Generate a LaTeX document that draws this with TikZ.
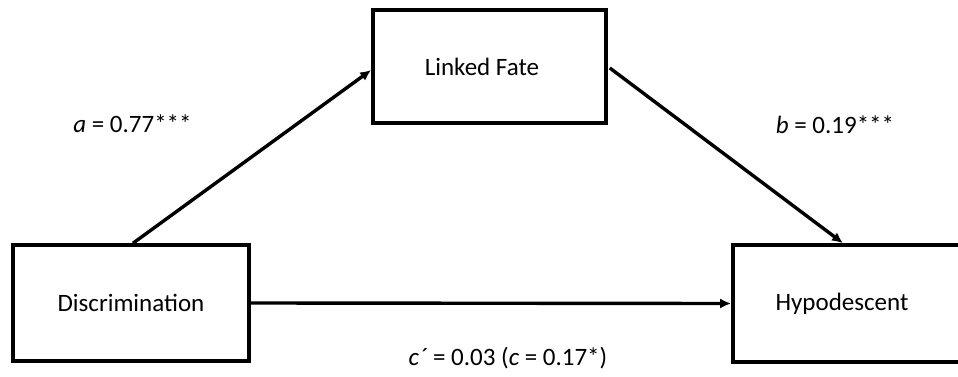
\documentclass[tikz,border=0pt]{standalone}
\usepackage{fontspec}
\setmainfont{Carlito}
\usetikzlibrary{arrows.meta}
\begin{document}
\begin{tikzpicture}[x=1pt,y=-1pt,
  box/.style={draw=black,line width=3.6pt,fill=white,minimum width=#1,inner sep=0pt,font=\fontsize{25}{30}\selectfont},
  arr/.style={line width=3.4pt,-{Latex[length=11pt,width=10pt]}},
  lab/.style={anchor=base,inner sep=0pt,font=\fontsize{25}{30}\selectfont}]
\useasboundingbox[fill=white] (0,0) rectangle (958,377);
\node[box=236pt,minimum height=116pt] (disc) at (131,303) {Discrimination};
\node[box=233pt,minimum height=113pt] (lf) at (489.5,66.5) {\hspace*{-15pt}Linked Fate};
\node[box=232pt,minimum height=117pt] (hypo) at (849,303.5) {\hspace*{-14pt}Hypodescent};
\draw[arr] ([xshift=2pt]disc.north) -- ([yshift=-3.5pt]lf.west);
\draw[arr] ([xshift=2pt,yshift=-1.5pt]lf.east) -- ([xshift=-6pt]hypo.north);
\draw[arr] (disc.east) -- (hypo.west);
\node[lab] (la) at (132.5,132) {\textit{a} = 0.77***};
\node[lab] (lb) at (835,133) {\textit{b} = 0.19***};
\node[lab] (lc) at (508,365) {\textit{c´} = 0.03 (\textit{c} = 0.17*)};
\end{tikzpicture}
\end{document}
